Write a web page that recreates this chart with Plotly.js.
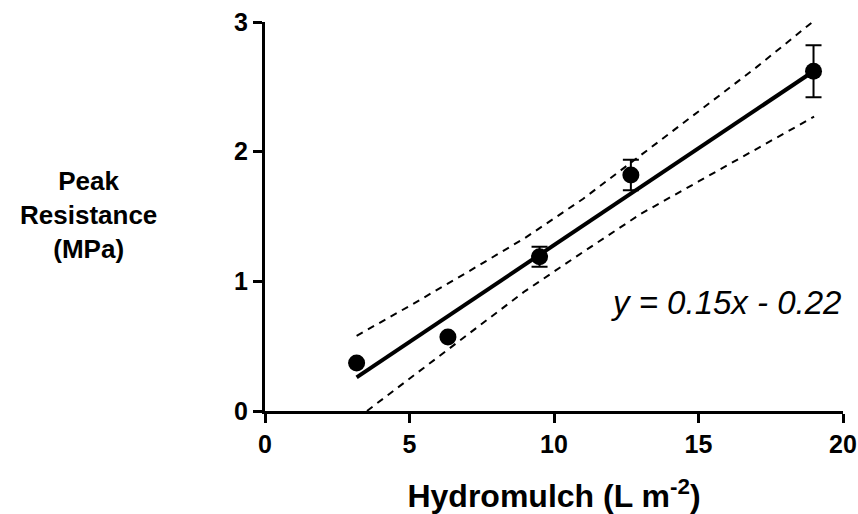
<!DOCTYPE html>
<html>
<head>
<meta charset="utf-8">
<script src="https://cdn.plot.ly/plotly-3.0.1.min.js"></script>
<style>html,body{margin:0;padding:0;background:#fff}#chart{width:858px;height:514px}</style>
</head>
<body>
<div id="chart"></div>
<script>
// Measured data
var hydromulch = [3.17, 6.33, 9.5, 12.66, 18.98];
var resistance = [0.37, 0.57, 1.19, 1.82, 2.62];
var resistanceErr = [0.0, 0.0, 0.077, 0.118, 0.2];

// Regression line (as drawn)
var fitX = [3.17, 18.98];
var fitY = [0.26, 2.62];

// 95% confidence bands
var bandX = [3.17, 5, 7, 9, 11, 13, 15, 17, 19];
var bandUpper = [0.58, 0.81, 1.07, 1.335, 1.635, 1.97, 2.31, 2.65, 3.01];
var bandLower = [-0.06, 0.25, 0.59, 0.925, 1.225, 1.52, 1.77, 2.02, 2.27];

var xTicks = [0, 5, 10, 15, 20];
var yTicks = [0, 1, 2, 3];

var equationText = 'y = 0.15x - 0.22';
var xTitle = 'Hydromulch (L m<sup>-2</sup>)';
var yTitle = 'Peak<br>Resistance<br>(MPa)';

var FONT = '"Liberation Sans", Arial, Helvetica, sans-serif';

var traces = [
  {x: bandX, y: bandUpper, mode: 'lines', line: {color: 'black', width: 2, dash: '7px,6px'}, hoverinfo: 'skip', showlegend: false},
  {x: bandX, y: bandLower, mode: 'lines', line: {color: 'black', width: 2, dash: '7px,6px'}, hoverinfo: 'skip', showlegend: false},
  {x: fitX, y: fitY, mode: 'lines', line: {color: 'black', width: 4}, showlegend: false},
  {x: hydromulch, y: resistance, mode: 'markers', cliponaxis: false,
   marker: {color: 'black', size: 17},
   error_y: {type: 'data', array: resistanceErr, visible: true, color: 'black', thickness: 2, width: 8},
   showlegend: false}
];

var layout = {
  width: 858, height: 514,
  margin: {l: 265, r: 15, t: 22, b: 103},
  paper_bgcolor: 'white', plot_bgcolor: 'white',
  font: {family: FONT, color: 'black'},
  xaxis: {
    range: [0, 20], tickvals: xTicks, ticktext: xTicks.map(function (v) { return '<b>' + v + '</b>'; }),
    showgrid: false, zeroline: false, showline: true, linecolor: 'black', linewidth: 3,
    ticks: 'outside', ticklen: 9, tickwidth: 3, tickcolor: 'black',
    tickfont: {family: FONT, size: 25, weight: 'bold', color: 'black'},
    title: {text: '<b>' + xTitle + '</b>', font: {family: FONT, size: 32, weight: 'bold', color: 'black'}, standoff: 30}
  },
  yaxis: {
    range: [0, 3], tickvals: yTicks, ticktext: yTicks.map(function (v) { return '<b>' + v + '</b>'; }),
    showgrid: false, zeroline: false, showline: true, linecolor: 'black', linewidth: 3,
    ticks: 'outside', ticklen: 9, tickwidth: 3, tickcolor: 'black',
    tickfont: {family: FONT, size: 25, weight: 'bold', color: 'black'}
  },
  annotations: [
    {xref: 'paper', yref: 'paper', x: -0.305, y: 0.504, xanchor: 'center', yanchor: 'middle',
     text: '<b>' + yTitle + '</b>', showarrow: false, align: 'center',
     font: {family: FONT, size: 26, weight: 'bold', color: 'black'}},
    {xref: 'x', yref: 'y', x: 20, y: 0.84, xanchor: 'right', yanchor: 'middle',
     text: '<i>' + equationText + '</i>', showarrow: false,
     font: {family: FONT, size: 33, style: 'italic', color: 'black'}}
  ]
};

Plotly.newPlot('chart', traces, layout, {displayModeBar: false, staticPlot: true});
</script>
</body>
</html>
